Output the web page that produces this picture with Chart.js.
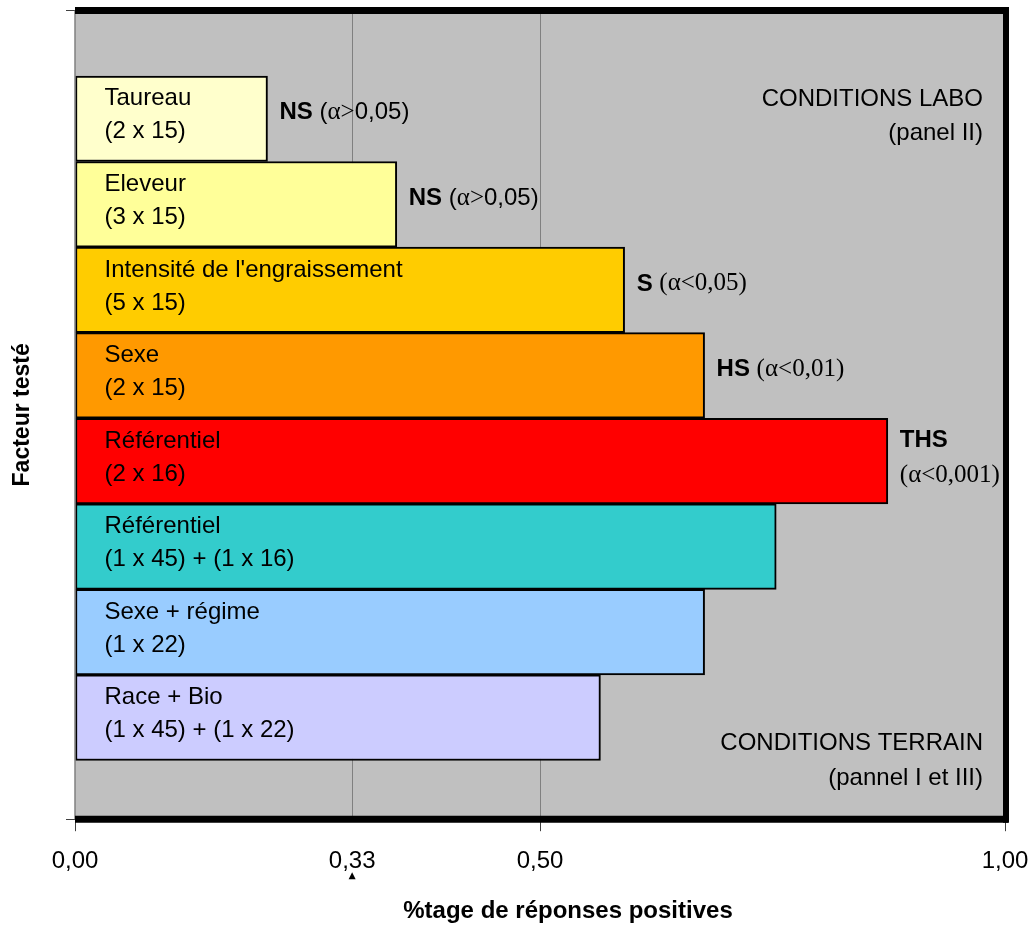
<!DOCTYPE html>
<html>
<head>
<meta charset="utf-8">
<title>Facteur testé</title>
<script src="https://cdn.jsdelivr.net/npm/chart.js@4.4.1/dist/chart.umd.min.js"></script>
<style>
  html, body { margin: 0; padding: 0; background: #fff; }
  #wrap { width: 1031px; height: 926px; }
</style>
</head>
<body>
<div id="wrap"><canvas id="chart"></canvas></div>
<script>
// values (share of positive answers, 0..1)
var factors = ["Taureau", "Eleveur", "Intensité de l'engraissement", "Sexe", "Référentiel", "Référentiel", "Sexe + régime", "Race + Bio"];
var designs = ["(2 x 15)", "(3 x 15)", "(5 x 15)", "(2 x 15)", "(2 x 16)", "(1 x 45) + (1 x 16)", "(1 x 22)", "(1 x 45) + (1 x 22)"];
var positives = [0.207, 0.346, 0.591, 0.677, 0.874, 0.754, 0.677, 0.565];
var signif = ["NS", "NS", "S", "HS", "THS", "", "", ""];
var alphas = ["(α>0,05)", "(α>0,05)", "(α<0,05)", "(α<0,01)", "(α<0,001)", "", "", ""];
var barColors = ["#ffffcc", "#ffff99", "#ffcc00", "#ff9900", "#ff0000", "#33cccc", "#99ccff", "#ccccff"];
// the "0,33" mark sits a bit left of a true 0.33 in the source picture
var xTickValues = [0, 0.298, 0.5, 1];
var xTickLabels = ["0,00", "0,33", "0,50", "1,00"];
var xTitle = "%tage de réponses positives";
var yTitle = "Facteur testé";
var cornerTop = ["CONDITIONS LABO", "(panel II)"];
var cornerBottom = ["CONDITIONS TERRAIN", "(pannel I et III)"];

var SANS = '"Liberation Sans", Arial, sans-serif';
var SERIF = '"Liberation Serif", "Times New Roman", serif';

// alpha text: symbols in serif, digits in sans for the NS ones (as in the source)
function alphaFont(text, ch) {
  var serif = text.indexOf("<") !== -1 || ch === "α" || ch === ">" || ch === "<";
  return serif ? "25px " + SERIF : "24px " + SANS;
}

function drawAlpha(ctx, text, x, y) {
  for (var i = 0; i < text.length; i++) {
    ctx.font = alphaFont(text, text[i]);
    ctx.fillText(text[i], x, y);
    x += ctx.measureText(text[i]).width;
  }
  return x;
}

function alphaWidth(ctx, text) {
  var w = 0;
  for (var i = 0; i < text.length; i++) {
    ctx.font = alphaFont(text, text[i]);
    w += ctx.measureText(text[i]).width;
  }
  return w;
}

var framePlugin = {
  id: "frame",
  beforeDraw: function (chart) {
    var a = chart.chartArea, ctx = chart.ctx;
    ctx.save();
    ctx.fillStyle = "#c0c0c0";
    ctx.fillRect(a.left, a.top, a.right - a.left, a.bottom - a.top);
    ctx.restore();
  },
  afterDatasetsDraw: function (chart) {
    var a = chart.chartArea, ctx = chart.ctx;
    var meta = chart.getDatasetMeta(0);
    var xs = chart.scales.x;
    ctx.save();

    // frame
    ctx.strokeStyle = "#808080";
    ctx.lineWidth = 1.5;
    ctx.beginPath();
    ctx.moveTo(a.left, a.top);
    ctx.lineTo(a.left, a.bottom);
    ctx.stroke();
    ctx.strokeStyle = "#000";
    ctx.lineWidth = 7;
    ctx.beginPath();
    ctx.moveTo(a.left, a.top);
    ctx.lineTo(a.right + 3, a.top);
    ctx.moveTo(a.left, a.bottom);
    ctx.lineTo(a.right + 3, a.bottom);
    ctx.stroke();
    ctx.lineWidth = 6;
    ctx.beginPath();
    ctx.moveTo(a.right + 1, a.top - 3.5);
    ctx.lineTo(a.right + 1, a.bottom + 3.5);
    ctx.stroke();

    ctx.fillStyle = "#000";
    ctx.textBaseline = "middle";

    // texts inside and next to each bar
    meta.data.forEach(function (el, i) {
      var left = el.base, right = el.x, cy = el.y;
      ctx.textAlign = "left";
      ctx.font = "24px " + SANS;
      ctx.fillText(factors[i], left + 29, cy - 20);
      ctx.fillText(designs[i], left + 29, cy + 13);

      if (!signif[i]) return;
      var x = right + 12;
      ctx.font = "bold 24px " + SANS;
      var bw = ctx.measureText(signif[i] + " ").width;
      var aw = alphaWidth(ctx, alphas[i]);
      ctx.font = "bold 24px " + SANS;
      if (x + bw + aw > a.right - 4) {
        ctx.fillText(signif[i], x, cy - 21);
        drawAlpha(ctx, alphas[i], x, cy + 14);
      } else {
        ctx.fillText(signif[i], x, cy - 6);
        drawAlpha(ctx, alphas[i], x + bw, cy - 6);
      }
    });

    // corner notes
    ctx.textAlign = "right";
    ctx.font = "24px " + SANS;
    ctx.fillText(cornerTop[0], a.right - 22, a.top + 88.5);
    ctx.fillText(cornerTop[1], a.right - 22, a.top + 122.5);
    ctx.fillText(cornerBottom[0], a.right - 22, a.bottom - 75.5);
    ctx.fillText(cornerBottom[1], a.right - 22, a.bottom - 40.5);

    // small marker under 0,33
    var tx = xs.getPixelForValue(xTickValues[1]);
    ctx.beginPath();
    ctx.moveTo(tx - 3.5, a.bottom + 60);
    ctx.lineTo(tx + 3.5, a.bottom + 60);
    ctx.lineTo(tx, a.bottom + 53);
    ctx.closePath();
    ctx.fill();

    // x title (sits right of centre in the source)
    ctx.textAlign = "center";
    ctx.font = "bold 24px " + SANS;
    ctx.fillText(xTitle, 568, a.bottom + 92);

    ctx.restore();
  }
};

var points = positives.map(function (v, i) { return { x: v, y: i }; });

new Chart(document.getElementById("chart"), {
  type: "bar",
  data: {
    datasets: [{
      data: points,
      backgroundColor: barColors,
      borderColor: "#000",
      borderWidth: 2,
      borderSkipped: false,
      barPercentage: 1,
      categoryPercentage: 1
    }]
  },
  options: {
    indexAxis: "y",
    responsive: true,
    maintainAspectRatio: false,
    animation: false,
    layout: { padding: { left: 5, top: 10.5, right: 14, bottom: 35 } },
    plugins: { legend: { display: false }, tooltip: { enabled: false } },
    scales: {
      x: {
        type: "linear",
        min: 0,
        max: 1,
        afterBuildTicks: function (s) {
          s.ticks = xTickValues.map(function (v) { return { value: v }; });
        },
        afterFit: function (s) { s.paddingRight = 26; },
        border: { display: false },
        grid: {
          color: function (c) {
            var v = c.tick ? c.tick.value : 0;
            return v > 0 && v < 1 ? "#808080" : "rgba(0,0,0,0)";
          },
          tickColor: function (c) {
            var v = c.tick ? c.tick.value : 0;
            return v === xTickValues[1] ? "rgba(0,0,0,0)" : "#404040";
          },
          lineWidth: 1,
          tickLength: 12
        },
        ticks: {
          padding: 15.5,
          color: "#000",
          font: { family: SANS, size: 24 },
          maxRotation: 0,
          autoSkip: false,
          callback: function (v, i) { return xTickLabels[i]; }
        }
      },
      y: {
        type: "linear",
        reverse: true,
        offset: false,
        min: -1.265,
        max: 8.186,
        afterBuildTicks: function (s) {
          s.ticks = [{ value: s.min }, { value: s.max }];
        },
        afterFit: function (s) { s.width = 70; },
        border: { display: false },
        grid: {
          offset: false,
          drawOnChartArea: false,
          tickLength: 9,
          color: "#404040",
          lineWidth: 1
        },
        ticks: { display: false },
        title: {
          display: true,
          text: yTitle,
          color: "#000",
          font: { family: SANS, size: 23, weight: "bold" },
          padding: { top: 4, bottom: 29 }
        }
      }
    }
  },
  plugins: [framePlugin]
});
</script>
</body>
</html>
